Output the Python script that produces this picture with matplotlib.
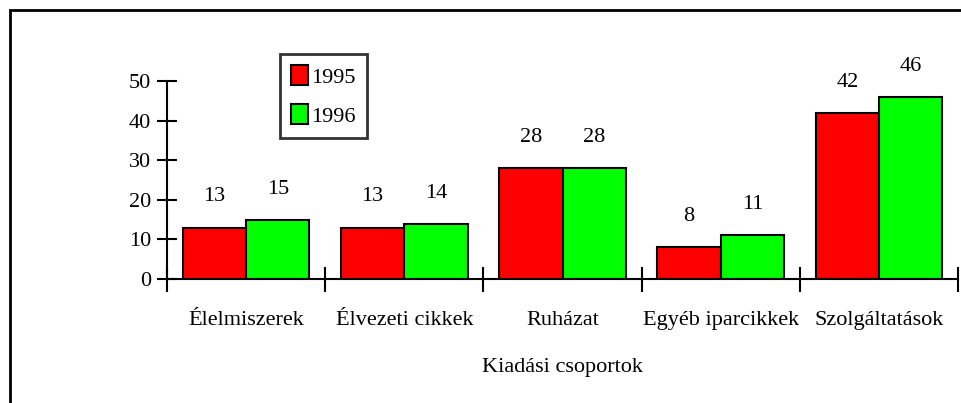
import matplotlib
matplotlib.use("Agg")
import matplotlib.pyplot as plt
import numpy as np
from matplotlib.patches import Rectangle, Patch

categories = ["Élelmiszerek", "Élvezeti cikkek", "Ruházat", "Egyéb iparcikkek", "Szolgáltatások"]
v1995 = [13, 13, 28, 8, 42]
v1996 = [15, 14, 28, 11, 46]
series_names = ["1995", "1996"]
yticks = [0, 10, 20, 30, 40, 50]
xlabel = "Kiadási csoportok"

plt.rcParams['font.family'] = ['Liberation Serif', 'DejaVu Serif']
FS = 16

fig = plt.figure(figsize=(9.61, 4.03), dpi=100)
ax = fig.add_axes([167/961, 1-279/403, (958-167)/961, (279-81)/403])

x = np.arange(len(categories))
w = 0.4
b1 = ax.bar(x - w/2, v1995, w, color="#ff0000", edgecolor="black", linewidth=1.5)
b2 = ax.bar(x + w/2, v1996, w, color="#00ff00", edgecolor="black", linewidth=1.5)
for bars, vals in ((b1, v1995), (b2, v1996)):
    for r, v in zip(bars, vals):
        ax.annotate(str(v), (r.get_x() + r.get_width()/2, v), xytext=(0, 22),
                    textcoords="offset points", ha="center", va="center", fontsize=FS)

ax.set_xlim(-0.5, len(categories) - 0.5)
ax.set_ylim(0, 50)
ax.set_yticks(yticks)
ax.set_yticklabels([str(t) for t in yticks], fontsize=FS)
ax.set_xticks(np.arange(len(categories) + 1) - 0.5)
ax.set_xticklabels([])
ax.set_xticks(x, minor=True)
ax.set_xticklabels(categories, minor=True, fontsize=FS)
ax.tick_params(axis="x", which="minor", length=0, pad=23)
ax.tick_params(axis="x", which="major", direction="inout", length=18, width=1.5)
ax.tick_params(axis="y", direction="inout", length=14, width=1.5, pad=4.5)
for s in ("top", "right"):
    ax.spines[s].set_visible(False)
for s in ("left", "bottom"):
    ax.spines[s].set_linewidth(1.5)
ax.set_xlabel(xlabel, fontsize=FS, labelpad=20)

handles = [Patch(facecolor="#ff0000", edgecolor="black", linewidth=1.5),
           Patch(facecolor="#00ff00", edgecolor="black", linewidth=1.5)]
leg = ax.legend(handles, series_names, loc="upper left",
                bbox_to_anchor=((280-167)/791, 1 + (81-54)/198),
                frameon=True, fancybox=False, handlelength=0.75, handleheight=1.0,
                handletextpad=0.15, labelspacing=0.75, borderpad=0.5, borderaxespad=0,
                fontsize=FS)
leg.get_frame().set_edgecolor("black")
leg.get_frame().set_linewidth(2)

fig.add_artist(Rectangle((9.5/961, -0.5), 2, 1.5 - 10/403, transform=fig.transFigure,
                         fill=False, edgecolor="black", linewidth=2))

fig.savefig("out.png", dpi=100)
